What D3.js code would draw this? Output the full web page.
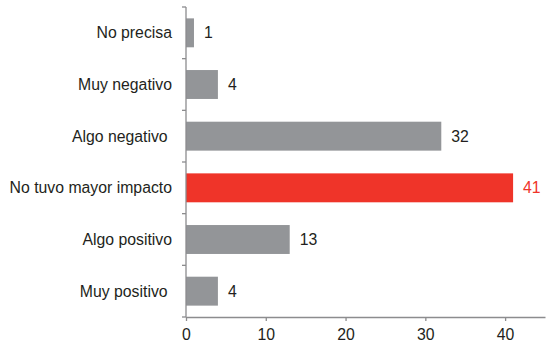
<!DOCTYPE html>
<html>
<head>
<meta charset="utf-8">
<script src="https://cdn.jsdelivr.net/npm/d3@7"></script>
<style>
  html, body { margin: 0; padding: 0; background: #fff; }
  #chart text { font-family: "Liberation Sans", Arial, sans-serif; white-space: pre; }
</style>
</head>
<body>
<div id="chart"></div>
<script>
// Respuestas por categoría (orden de arriba a abajo)
const categories = ['No precisa', 'Muy negativo', 'Algo negativo ', 'No tuvo mayor impacto', 'Algo positivo', 'Muy positivo '];
const values = [1, 4, 32, 41, 13, 4];
const highlight = 'No tuvo mayor impacto';
const xTicks = [0, 10, 20, 30, 40];

(function () {
  const w = 554, h = 344;
  const margin = { top: 7, right: 9, bottom: 27, left: 186 };

  const palette = {
    bar: '#939598',
    hi: '#ef3429',
    axis: '#8c8c8e',
    text: '#231f20'
  };

  const fs = 15.8;

  const svg = d3.select('#chart')
    .append('svg')
    .attr('width', w)
    .attr('height', h);

  const x = d3.scaleLinear()
    .domain([0, 45])
    .range([margin.left, w - margin.right]);

  const y = d3.scaleBand()
    .domain(categories)
    .range([margin.top, h - margin.bottom])
    .paddingInner(0.44)
    .paddingOuter(0.22);

  const bars = categories.map((c, i) => ({ cat: c, val: values[i] }));

  // bars
  svg.append('g')
    .selectAll('rect')
    .data(bars)
    .enter()
    .append('rect')
    .attr('x', x(0))
    .attr('y', (d) => y(d.cat))
    .attr('width', (d) => x(d.val) - x(0))
    .attr('height', y.bandwidth())
    .attr('fill', (d) => (d.cat === highlight ? palette.hi : palette.bar));

  // value labels
  svg.append('g')
    .selectAll('text')
    .data(bars)
    .enter()
    .append('text')
    .attr('x', (d) => x(d.val) + 10)
    .attr('y', (d) => y(d.cat) + y.bandwidth() / 2)
    .attr('dy', '0.35em')
    .attr('font-size', fs)
    .attr('fill', (d) => (d.cat === highlight ? palette.hi : palette.text))
    .text((d) => d.val);

  // x axis
  svg.append('g')
    .attr('transform', `translate(0,${h - margin.bottom})`)
    .call(d3.axisBottom(x).tickValues(xTicks).tickSize(4).tickSizeOuter(0).tickPadding(8))
    .call((g) => g.select('.domain').attr('stroke', palette.axis).attr('stroke-width', 1.3))
    .call((g) => g.selectAll('line').attr('stroke', palette.axis).attr('stroke-width', 1.3))
    .call((g) => g.selectAll('text').attr('fill', palette.text).attr('font-size', fs)
      .attr('font-family', '"Liberation Sans", Arial, sans-serif'));

  // y axis: ticks at band boundaries
  const yAxis = svg.append('g')
    .attr('transform', `translate(${margin.left},0)`);

  yAxis.append('line')
    .attr('x1', 0).attr('x2', 0)
    .attr('y1', margin.top).attr('y2', h - margin.bottom)
    .attr('stroke', palette.axis).attr('stroke-width', 1.3);

  const step = y.step();
  const bounds = d3.range(categories.length + 1).map((i) => margin.top + i * step);
  yAxis.selectAll('line.tick')
    .data(bounds)
    .enter()
    .append('line')
    .attr('class', 'tick')
    .attr('x1', -4).attr('x2', 0)
    .attr('y1', (d) => d).attr('y2', (d) => d)
    .attr('stroke', palette.axis).attr('stroke-width', 1.3);

  yAxis.selectAll('text.cat')
    .data(categories)
    .enter()
    .append('text')
    .attr('class', 'cat')
    .attr('x', -14)
    .attr('y', (d) => y(d) + y.bandwidth() / 2)
    .attr('dy', '0.35em')
    .attr('text-anchor', 'end')
    .attr('font-size', fs)
    .attr('fill', palette.text)
    .text((d) => d);
})();
</script>
</body>
</html>
